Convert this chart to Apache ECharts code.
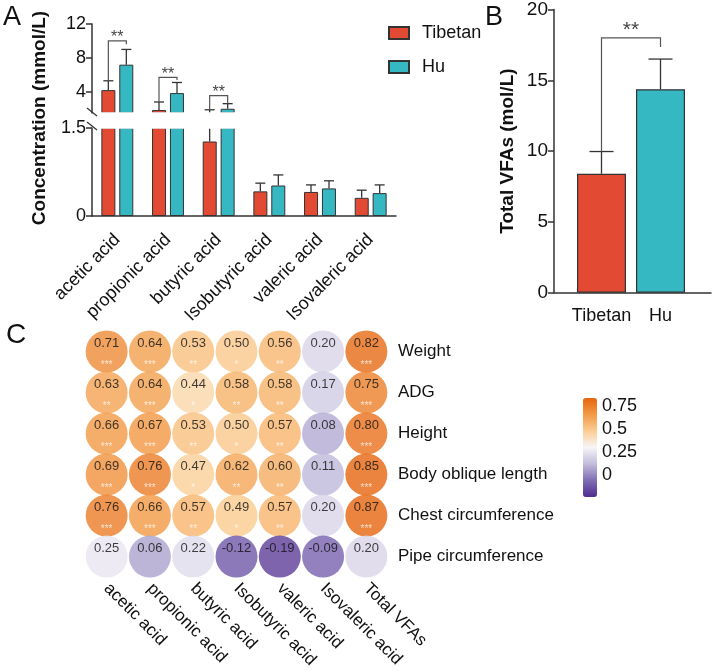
<!DOCTYPE html>
<html lang="en">
<head>
    <meta charset="UTF-8">
    <script src="https://cdn.jsdelivr.net/npm/echarts@6/dist/echarts.min.js"></script>
    <title>VFAs in Tibetan and Hu sheep</title>
    <style>
        html, body { margin: 0; padding: 0; background: #fff; }
        #main { width: 714px; height: 671px; }
    </style>
</head>
<body>
    <div id="main"></div>
    <script>
        // panel A
        var acids = ['acetic acid', 'propionic acid', 'butyric acid', 'Isobutyric acid', 'valeric acid', 'Isovaleric acid'];
        var tibetanMean = [4.2, 1.85, 1.27, 0.42, 0.41, 0.31];
        var tibetanSd = [1.1, 0.95, 0.61, 0.14, 0.12, 0.13];
        var huMean = [7.2, 3.85, 2.0, 0.52, 0.47, 0.39];
        var huSd = [1.8, 1.25, 0.6, 0.18, 0.13, 0.14];
        // [acid index, bracket height, right leg end]
        var sigA = [[0, 10.0, 9.6], [1, 5.7, 5.4], [2, 3.55, 2.6]];

        // panel B
        var groups = ['Tibetan', 'Hu'];
        var totalMean = [8.4, 14.37];
        var totalSd = [1.57, 2.13];
        var sigB = [18.0, 17.36];

        // panel C
        var traits = ['Weight', 'ADG', 'Height', 'Body oblique length', 'Chest circumference', 'Pipe circumference'];
        var vfaCols = ['acetic acid', 'propionic acid', 'butyric acid', 'Isobutyric acid', 'valeric acid', 'Isovaleric acid', 'Total VFAs'];
        var corr = [
            [0.71, 0.64, 0.53, 0.50, 0.56, 0.20, 0.82],
            [0.63, 0.64, 0.44, 0.58, 0.58, 0.17, 0.75],
            [0.66, 0.67, 0.53, 0.50, 0.57, 0.08, 0.80],
            [0.69, 0.76, 0.47, 0.62, 0.60, 0.11, 0.85],
            [0.76, 0.66, 0.57, 0.49, 0.57, 0.20, 0.87],
            [0.25, 0.06, 0.22, -0.12, -0.19, -0.09, 0.20]
        ];
        var stars = [
            ['***', '***', '**', '*', '**', '', '***'],
            ['**', '***', '*', '**', '**', '', '***'],
            ['***', '***', '**', '*', '**', '', '***'],
            ['***', '***', '*', '**', '**', '', '***'],
            ['***', '***', '**', '*', '**', '', '***'],
            ['', '', '', '', '', '', '']
        ];
        var colorTicks = [0, 0.25, 0.5, 0.75];

        var RED = '#e34a33', TEAL = '#35b8c2', AX = '#333';
        var FONT = '"Liberation Sans", Arial, sans-serif';

        var chart = echarts.init(document.getElementById('main'));

        function errBars(dx, cap) {
            return function (params, api) {
                var i = api.value(0);
                var base = api.coord([i, api.value(1)]);
                var top = api.coord([i, api.value(1) + api.value(2)]);
                var x = base[0] + dx;
                var st = { stroke: AX, lineWidth: 1.3 };
                return {
                    type: 'group',
                    children: [
                        { type: 'line', shape: { x1: x, y1: base[1], x2: x, y2: top[1] }, style: st },
                        { type: 'line', shape: { x1: x - cap, y1: top[1], x2: x + cap, y2: top[1] }, style: st }
                    ]
                };
            };
        }

        // bracket: [xLeft, xRight, top, leftEnd, rightEnd]
        function bracket(dx, fontSize, lift) {
            return function (params, api) {
                var l = api.coord([api.value(0), api.value(2)]);
                var r = api.coord([api.value(1), api.value(2)]);
                var lb = api.coord([api.value(0), api.value(3)])[1];
                var rb = api.coord([api.value(1), api.value(4)])[1];
                var xl = l[0] - dx, xr = r[0] + dx, y = l[1];
                var st = { stroke: '#555', lineWidth: 1.2, fill: null };
                return {
                    type: 'group',
                    children: [
                        { type: 'polyline', shape: { points: [[xl, lb], [xl, y], [xr, y], [xr, rb]] }, style: st },
                        { type: 'text', style: { text: '**', x: (xl + xr) / 2, y: y - lift, textAlign: 'center', textVerticalAlign: 'middle', font: fontSize + 'px ' + FONT, fill: '#444' } }
                    ]
                };
            };
        }

        function errData(mean, sd) {
            return mean.map(function (m, i) { return [i, m, sd[i]]; });
        }

        var sigAData = sigA.map(function (s) {
            var i = s[0];
            return [i, i, s[1], tibetanMean[i] + tibetanSd[i], s[2]];
        });

        var cells = [], starCells = [];
        corr.forEach(function (row, r) {
            row.forEach(function (v, c) {
                cells.push([c, r, v]);
                starCells.push([c, r]);
            });
        });

        var axisLineStyle = { color: AX, width: 1.5 };
        var tickLabel = { fontSize: 18, color: '#111', fontFamily: FONT };

        var option = {
            animation: false,
            textStyle: { fontFamily: FONT },
            legend: {
                data: ['Tibetan', 'Hu'],
                orient: 'vertical',
                left: 383, top: 19,
                itemWidth: 20, itemHeight: 12, itemGap: 16,
                icon: 'rect',
                textStyle: { fontSize: 18, color: '#111', padding: [0, 0, 0, 8] }
            },
            grid: [
                { left: 92, top: 24, width: 304, height: 89 },
                { left: 92, top: 128, width: 304, height: 88 },
                { left: 572, top: 9.3, width: 118, height: 283.4 },
                { left: 554, top: 9.3, width: 157, height: 283.4 },
                { left: 85, top: 331, width: 303, height: 247 },
                { left: 583, top: 398, width: 14, height: 99 }
            ],
            xAxis: [
                { type: 'category', gridIndex: 0, data: acids, show: false },
                {
                    type: 'category', gridIndex: 1, data: acids,
                    axisLine: { lineStyle: axisLineStyle },
                    axisTick: { alignWithLabel: true, length: 6, lineStyle: axisLineStyle },
                    axisLabel: { rotate: 45, margin: 21, fontSize: 18, color: '#111', interval: 0 }
                },
                {
                    type: 'category', gridIndex: 2, data: groups,
                    axisLine: { show: false },
                    axisTick: { alignWithLabel: true, length: 6, lineStyle: axisLineStyle },
                    axisLabel: { margin: 14, fontSize: 18, color: '#111', interval: 0 }
                },
                {
                    type: 'value', gridIndex: 3, min: 0, max: 1,
                    axisLine: { show: true, lineStyle: axisLineStyle },
                    axisTick: { show: false }, axisLabel: { show: false }, splitLine: { show: false }
                },
                {
                    type: 'category', gridIndex: 4, data: vfaCols,
                    axisLine: { show: false },
                    axisTick: { alignWithLabel: true, length: 5, lineStyle: { color: '#555' } },
                    axisLabel: { rotate: -45, margin: 9, fontSize: 17, color: '#111', interval: 0 }
                },
                { type: 'value', gridIndex: 5, show: false, min: 0, max: 1 }
            ],
            yAxis: [
                {
                    type: 'value', gridIndex: 0, min: 1.5, max: 12,
                    axisLine: { show: true, lineStyle: axisLineStyle },
                    axisTick: { show: true, length: 6, lineStyle: axisLineStyle, customValues: [4, 8, 12] },
                    axisLabel: Object.assign({ customValues: [4, 8, 12], margin: 6 }, tickLabel),
                    splitLine: { show: false }
                },
                {
                    type: 'value', gridIndex: 1, min: 0, max: 1.5, interval: 1.5,
                    axisLine: { show: true, lineStyle: axisLineStyle },
                    axisTick: { show: true, length: 6, lineStyle: axisLineStyle },
                    axisLabel: Object.assign({ margin: 6 }, tickLabel),
                    splitLine: { show: false }
                },
                {
                    type: 'value', gridIndex: 2, min: 0, max: 20, interval: 5, offset: 18,
                    name: 'Total VFAs (mol/L)', nameLocation: 'middle', nameGap: 37,
                    nameTextStyle: { fontSize: 19, fontWeight: 'bold', color: '#111' },
                    axisLine: { show: true, lineStyle: axisLineStyle },
                    axisTick: { show: true, length: 6, lineStyle: axisLineStyle },
                    axisLabel: { margin: 6, fontSize: 19, color: '#111' },
                    splitLine: { show: false }
                },
                { type: 'value', gridIndex: 3, min: 0, max: 1, show: false },
                {
                    type: 'category', gridIndex: 4, data: traits, inverse: true, position: 'right',
                    axisLine: { show: false },
                    axisTick: { alignWithLabel: true, length: 5, lineStyle: { color: '#555' } },
                    axisLabel: { margin: 10, fontSize: 17, color: '#111', interval: 0 }
                },
                {
                    type: 'value', gridIndex: 5, min: -0.24, max: 0.84, position: 'right', z: 10,
                    axisLine: { show: false },
                    axisTick: { show: true, inside: true, length: 3, lineStyle: { color: '#fff' }, customValues: colorTicks },
                    axisLabel: { customValues: colorTicks, margin: 5, fontSize: 18, color: '#111', formatter: function (v) { return String(v); } },
                    splitLine: { show: false }
                }
            ],
            visualMap: {
                type: 'continuous',
                seriesIndex: 9,
                dimension: 2,
                min: -0.24, max: 0.84,
                calculable: false,
                left: 583, top: 398,
                itemWidth: 14, itemHeight: 99,
                padding: 0,
                inRange: { color: ['#4f2b8f', '#7f6db4', '#c2bcdb', '#f7f5f8', '#fbcd93', '#f29a45', '#e5650f'] }
            },
            graphic: [
                { type: 'text', x: 3, y: 4, style: { text: 'A', font: '27px ' + FONT, fill: '#111' } },
                { type: 'text', x: 485, y: 4, style: { text: 'B', font: '27px ' + FONT, fill: '#111' } },
                { type: 'text', x: 6, y: 321, style: { text: 'C', font: '28px ' + FONT, fill: '#111' } },
                {
                    type: 'text', x: 40, y: 118, rotation: Math.PI / 2,
                    style: { text: 'Concentration (mmol/L)', font: 'bold 19px ' + FONT, fill: '#111', textAlign: 'center', textVerticalAlign: 'middle' }
                },
                // gap of the broken axis
                { type: 'rect', z: 50, shape: { x: 93, y: 112.3, width: 305, height: 16.4 }, style: { fill: '#fff' } },
                { type: 'line', z: 51, shape: { x1: 87, y1: 108, x2: 97, y2: 116 }, style: { stroke: AX, lineWidth: 1.3 } },
                { type: 'line', z: 51, shape: { x1: 87, y1: 122, x2: 97, y2: 130 }, style: { stroke: AX, lineWidth: 1.3 } }
            ],
            series: [
                // 0-3 bars of panel A (upper and lower part of the broken axis)
                { name: 'Tibetan', type: 'bar', xAxisIndex: 0, yAxisIndex: 0, data: tibetanMean, barWidth: 14, barGap: '28%', itemStyle: { color: RED, borderColor: AX, borderWidth: 1 } },
                { name: 'Hu', type: 'bar', xAxisIndex: 0, yAxisIndex: 0, data: huMean, barWidth: 14, barGap: '28%', itemStyle: { color: TEAL, borderColor: AX, borderWidth: 1 } },
                { name: 'Tibetan', type: 'bar', xAxisIndex: 1, yAxisIndex: 1, data: tibetanMean, barWidth: 14, barGap: '28%', itemStyle: { color: RED, borderColor: AX, borderWidth: 1 } },
                { name: 'Hu', type: 'bar', xAxisIndex: 1, yAxisIndex: 1, data: huMean, barWidth: 14, barGap: '28%', itemStyle: { color: TEAL, borderColor: AX, borderWidth: 1 } },
                // 4-7 error bars
                { type: 'custom', xAxisIndex: 0, yAxisIndex: 0, clip: true, z: 3, renderItem: errBars(-9, 5), data: errData(tibetanMean, tibetanSd) },
                { type: 'custom', xAxisIndex: 0, yAxisIndex: 0, clip: true, z: 3, renderItem: errBars(9, 5), data: errData(huMean, huSd) },
                { type: 'custom', xAxisIndex: 1, yAxisIndex: 1, clip: true, z: 3, renderItem: errBars(-9, 5), data: errData(tibetanMean, tibetanSd) },
                { type: 'custom', xAxisIndex: 1, yAxisIndex: 1, clip: true, z: 3, renderItem: errBars(9, 5), data: errData(huMean, huSd) },
                // 8 significance brackets A
                { type: 'custom', xAxisIndex: 0, yAxisIndex: 0, clip: false, z: 3, renderItem: bracket(9, 16, 3), data: sigAData },
                // 9 correlation circles
                {
                    type: 'scatter', xAxisIndex: 4, yAxisIndex: 4, symbolSize: 42, data: cells,
                    label: {
                        show: true, position: 'inside', offset: [0, -8], fontSize: 13, color: '#111',
                        formatter: function (p) { return p.value[2].toFixed(2); }
                    }
                },
                // 10 significance stars inside circles
                {
                    type: 'scatter', xAxisIndex: 4, yAxisIndex: 4, symbolSize: 1, data: starCells,
                    itemStyle: { color: 'rgba(0,0,0,0)' },
                    label: {
                        show: true, position: 'inside', offset: [0, 14], fontSize: 10, color: 'rgba(255,255,255,0.9)',
                        formatter: function (p) { return stars[p.value[1]][p.value[0]]; }
                    }
                },
                // 11-13 panel B
                {
                    name: 'Total', type: 'bar', xAxisIndex: 2, yAxisIndex: 2, barWidth: 49,
                    data: totalMean.map(function (v, i) { return { value: v, itemStyle: { color: i === 0 ? RED : TEAL } }; }),
                    itemStyle: { borderColor: AX, borderWidth: 1.2 }
                },
                { type: 'custom', xAxisIndex: 2, yAxisIndex: 2, z: 3, renderItem: errBars(0, 12), data: errData(totalMean, totalSd) },
                {
                    type: 'custom', xAxisIndex: 2, yAxisIndex: 2, z: 3, renderItem: bracket(0, 21, 8),
                    data: [[0, 1, sigB[0], totalMean[0] + totalSd[0], sigB[1]]]
                }
            ]
        };

        chart.setOption(option);
    </script>
</body>
</html>
